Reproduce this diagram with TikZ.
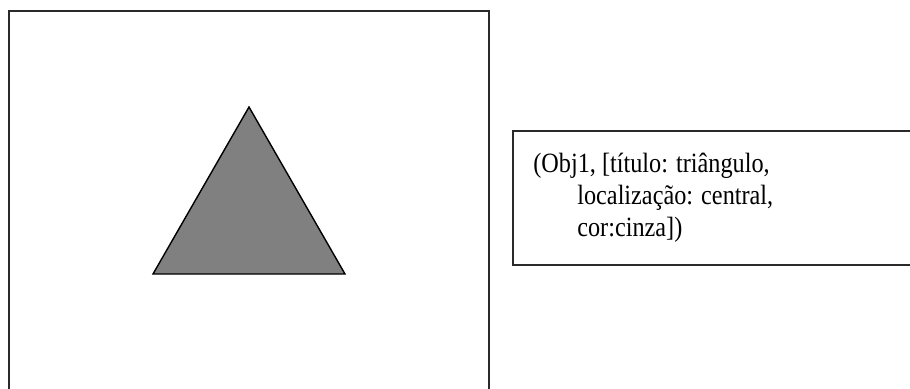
\documentclass[tikz,border=0pt]{standalone}
\usepackage{fontspec}
\setmainfont{Liberation Serif}
\usepackage{xcolor}
\usepackage{graphicx}

\definecolor{shapegray}{HTML}{808080}
\definecolor{edgegray}{HTML}{2A2A2A}

\newcommand{\tallline}[1]{\scalebox{1}[1.15]{#1}}

\begin{document}
\begin{tikzpicture}[
    x=0.02cm, y=-0.02cm,
    frame/.style={draw=edgegray, line width=1.2pt},
    desc/.style={anchor=base west, inner sep=0pt, font=\fontsize{13.8}{16}\selectfont}
]
    \useasboundingbox (0,0) rectangle (910,389);

    % Coordinates
    \coordinate (img_bl) at (9, 389);
    \coordinate (img_tl) at (9, 11);
    \coordinate (img_tr) at (489, 11);
    \coordinate (img_br) at (489, 389);

    \coordinate (apex)  at (249, 107);
    \coordinate (left)  at (153, 274);
    \coordinate (right) at (345, 274);

    \coordinate (box_tr) at (910, 131);
    \coordinate (box_tl) at (513, 131);
    \coordinate (box_bl) at (513, 265);
    \coordinate (box_br) at (910, 265);

    % Image frame (cut off at the bottom)
    \draw[frame] (img_bl) -- (img_tl) -- (img_tr) -- (img_br);

    % Grey triangle
    \draw[black, line width=0.8pt, fill=shapegray] (apex) -- (left) -- (right) -- cycle;

    % Description box (cut off at the right)
    \draw[frame] (box_tr) -- (box_tl) -- (box_bl) -- (box_br);

    % Description text
    \node[desc] (line1) at (533, 172) {\tallline{(Obj1, [título: triângulo,}};
    \node[desc] (line2) at (577, 204) {\tallline{localização: central,}};
    \node[desc] (line3) at (577, 236) {\tallline{cor:cinza])}};

\end{tikzpicture}
\end{document}
